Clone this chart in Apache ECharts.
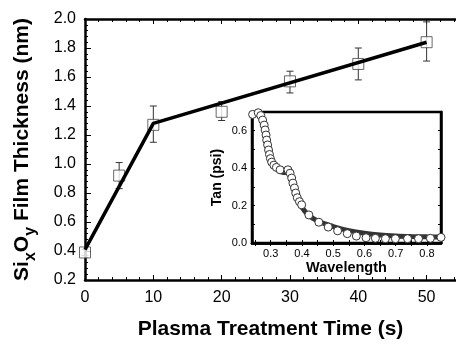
<!DOCTYPE html>
<html>
<head>
<meta charset="utf-8">
<script src="https://cdn.jsdelivr.net/npm/echarts@6/dist/echarts.min.js"></script>
<style>html,body{margin:0;padding:0;background:#fff}#c{width:456px;height:345px}</style>
</head>
<body>
<div id="c"></div>
<script>
// Main plot data
const plasmaTime = [0, 5, 10, 20, 30, 40, 50];
const thickness  = [0.39, 0.92, 1.27, 1.36, 1.57, 1.69, 1.84];
const errLow     = [0.37, 0.83, 1.15, 1.30, 1.49, 1.58, 1.71];
const errHigh    = [0.41, 1.01, 1.40, 1.43, 1.64, 1.80, 1.98];
const trendTime  = [0, 10, 50];
const trendThick = [0.41, 1.28, 1.84];
const mainXTicks = [0, 10, 20, 30, 40, 50];

// Inset data
const wavelength = [0.242,0.260,0.268,0.274,0.279,0.282,0.285,0.287,0.290,0.293,0.296,0.299,0.303,0.310,0.318,0.330,0.355,0.362,0.367,0.371,0.376,0.380,0.385,0.392,0.399,0.422,0.454,0.484,0.514,0.545,0.574,0.605,0.635,0.667,0.699,0.738,0.773,0.811,0.845];
const tanPsi     = [0.687,0.696,0.681,0.657,0.630,0.604,0.577,0.550,0.524,0.497,0.473,0.451,0.432,0.416,0.404,0.391,0.391,0.373,0.347,0.320,0.294,0.267,0.242,0.221,0.204,0.150,0.111,0.085,0.065,0.050,0.037,0.028,0.025,0.023,0.023,0.023,0.023,0.025,0.030];
const fitWl      = [0.245,0.26,0.27,0.28,0.29,0.30,0.31,0.32,0.33,0.34,0.35,0.36,0.365,0.37,0.38,0.39,0.40,0.42,0.45,0.50,0.55,0.60,0.65,0.70,0.75,0.80,0.845];
const fitTan     = [0.685,0.69,0.67,0.62,0.53,0.46,0.415,0.395,0.383,0.377,0.378,0.382,0.37,0.33,0.275,0.225,0.19,0.15,0.117,0.088,0.066,0.052,0.043,0.038,0.035,0.033,0.032];
const insetXLabels = [0.3, 0.4, 0.5, 0.6, 0.7, 0.8];
const insetXTicks  = [0.25,0.3,0.35,0.4,0.45,0.5,0.55,0.6,0.65,0.7,0.75,0.8];
const insetYLabels = [0, 0.2, 0.4, 0.6];
const insetYTicks  = [0, 0.1, 0.2, 0.3, 0.4, 0.5, 0.6];

const FF = '"Liberation Sans", Arial, sans-serif';
const chart = echarts.init(document.getElementById('c'), null, {renderer: 'canvas'});

const mainPts = plasmaTime.map((t, i) => [t, thickness[i]]);
const errData = plasmaTime.map((t, i) => [t, errLow[i], errHigh[i]]);
const trend = trendTime.map((t, i) => [t, trendThick[i]]);
const insetPts = wavelength.map((w, i) => [w, tanPsi[i]]);
const fitPts = fitWl.map((w, i) => [w, fitTan[i]]);

const axisLine = {show: true, lineStyle: {color: '#000', width: 2.5}};

chart.setOption({
  animation: false,
  backgroundColor: '#fff',
  grid: [
    {left: 85, top: 19, right: 0, height: 264},
    {left: 252, top: 112, width: 189, height: 131, show: true, backgroundColor: '#fff', borderColor: '#000', borderWidth: 2.5, z: 5}
  ],
  xAxis: [
    {gridIndex: 0, type: 'value', min: 0, max: 54.3, interval: 10, position: 'bottom',
     name: 'Plasma Treatment Time (s)', nameLocation: 'middle', nameGap: 39,
     nameTextStyle: {fontFamily: FF, fontSize: 21, fontWeight: 'bold', color: '#000'},
     axisLine: axisLine,
     axisTick: {inside: true, length: 5, lineStyle: {color: '#000', width: 1}},
     minorTick: {show: true, splitNumber: 5, length: 3, lineStyle: {color: '#000', width: 1}},
     axisLabel: {fontFamily: FF, fontSize: 16, color: '#000', margin: 10, customValues: mainXTicks},
     splitLine: {show: false}},
    {gridIndex: 0, type: 'value', min: 0, max: 54.3, interval: 10, position: 'top',
     axisLine: axisLine,
     axisTick: {inside: true, length: 5, lineStyle: {color: '#000', width: 1}},
     minorTick: {show: true, splitNumber: 5, length: 3, lineStyle: {color: '#000', width: 1}},
     axisLabel: {show: false}, splitLine: {show: false}},
    {gridIndex: 1, type: 'value', min: 0.24, max: 0.845, position: 'bottom',
     name: 'Wavelength', nameLocation: 'middle', nameGap: 17,
     nameTextStyle: {fontFamily: FF, fontSize: 14.5, fontWeight: 'bold', color: '#000'},
     axisLine: axisLine,
     axisTick: {inside: true, length: 3, customValues: insetXTicks, lineStyle: {color: '#000', width: 1}},
     axisLabel: {fontFamily: FF, fontSize: 11, color: '#000', margin: 5, customValues: insetXLabels, formatter: v => v.toFixed(1)},
     splitLine: {show: false}, z: 6},
    {gridIndex: 1, type: 'value', min: 0.24, max: 0.845, position: 'top',
     axisLine: axisLine,
     axisTick: {inside: true, length: 3, customValues: insetXTicks, lineStyle: {color: '#000', width: 1}},
     axisLabel: {show: false}, splitLine: {show: false}, z: 6}
  ],
  yAxis: [
    {gridIndex: 0, type: 'value', min: 0.2, max: 2.0, interval: 0.2, position: 'left',
     name: '{b|Si}{s|x}{b|O}{s|y}{b| Film Thickness (nm)}', nameLocation: 'middle', nameGap: 46,
     nameTextStyle: {fontFamily: FF, fontSize: 21, fontWeight: 'bold', color: '#000',
       rich: {
         b: {fontFamily: FF, fontSize: 21, fontWeight: 'bold', color: '#000', lineHeight: 27, verticalAlign: 'top', padding: [0, 0, 6, 0]},
         s: {fontFamily: FF, fontSize: 16, fontWeight: 'bold', color: '#000', lineHeight: 27, verticalAlign: 'bottom', padding: [9, 0, 0, 0]}
       }},
     axisLine: axisLine,
     axisTick: {inside: true, length: 6, lineStyle: {color: '#000', width: 1}},
     minorTick: {show: true, splitNumber: 5, length: 3, lineStyle: {color: '#000', width: 1}},
     axisLabel: {fontFamily: FF, fontSize: 16, color: '#000', margin: 9, formatter: v => v.toFixed(1)},
     splitLine: {show: false}},
    {gridIndex: 1, type: 'value', min: 0, max: 0.7, position: 'left',
     name: 'Tan (psi)', nameLocation: 'middle', nameGap: 28,
     nameTextStyle: {fontFamily: FF, fontSize: 14, fontWeight: 'bold', color: '#000'},
     axisLine: axisLine,
     axisTick: {inside: true, length: 3, customValues: insetYTicks, lineStyle: {color: '#000', width: 1}},
     axisLabel: {fontFamily: FF, fontSize: 11, color: '#000', margin: 5, customValues: insetYLabels, formatter: v => v.toFixed(1)},
     splitLine: {show: false}, z: 6},
    {gridIndex: 1, type: 'value', min: 0, max: 0.7, position: 'right',
     axisLine: axisLine,
     axisTick: {inside: true, length: 3, customValues: insetYTicks, lineStyle: {color: '#000', width: 1}},
     axisLabel: {show: false}, splitLine: {show: false}, z: 6}
  ],
  series: [
    {type: 'custom', xAxisIndex: 0, yAxisIndex: 0, z: 2, data: errData,
     renderItem: function (params, api) {
       const x = api.value(0);
       const lo = api.coord([x, api.value(1)]);
       const hi = api.coord([x, api.value(2)]);
       const w = 3.5;
       const st = {stroke: '#333', lineWidth: 1};
       return {type: 'group', children: [
         {type: 'line', shape: {x1: lo[0], y1: lo[1], x2: hi[0], y2: hi[1]}, style: st},
         {type: 'line', shape: {x1: lo[0] - w, y1: lo[1], x2: lo[0] + w, y2: lo[1]}, style: st},
         {type: 'line', shape: {x1: hi[0] - w, y1: hi[1], x2: hi[0] + w, y2: hi[1]}, style: st}
       ]};
     }},
    {type: 'scatter', xAxisIndex: 0, yAxisIndex: 0, z: 3, data: mainPts, symbol: 'rect', symbolSize: 11,
     itemStyle: {color: '#fff', borderColor: '#444', borderWidth: 1}, clip: false},
    {type: 'line', xAxisIndex: 0, yAxisIndex: 0, z: 4, data: trend, showSymbol: false, symbol: 'none',
     lineStyle: {color: '#000', width: 3.5}},
    {type: 'line', xAxisIndex: 2, yAxisIndex: 1, z: 7, data: fitPts, showSymbol: false, symbol: 'none', smooth: 0.3,
     lineStyle: {color: '#333', width: 5}},
    {type: 'scatter', xAxisIndex: 2, yAxisIndex: 1, z: 8, data: insetPts, symbol: 'circle', symbolSize: 8,
     itemStyle: {color: '#fff', borderColor: '#333', borderWidth: 1, opacity: 1}, clip: false}
  ]
});
</script>
</body>
</html>
